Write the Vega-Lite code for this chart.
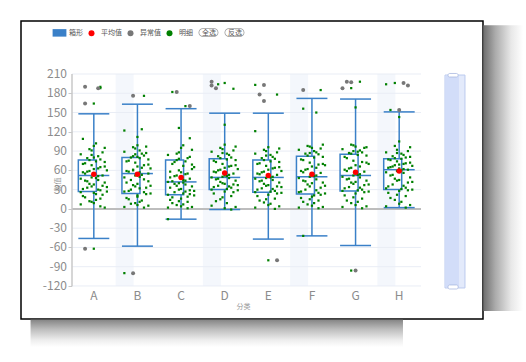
{
"$schema":"https://vega.github.io/schema/vega-lite/v6.json",
"width":462,"height":298,
"autosize":{"type":"none"},
"padding":{"left":21,"top":21,"right":43,"bottom":43},
"background":"#ffffff",
"config":{
 "view":{"stroke":"#000000","strokeWidth":1.5,"fill":"#ffffff"},
 "font":"Noto Sans CJK SC",
 "axis":{"labelOverlap":false},
 "axisY":{"labelOverlap":false},
 "legend":{"labelFont":"Noto Sans CJK SC","labelFontSize":7,"labelColor":"#555555","symbolSize":36,"columnPadding":5,"labelOffset":6,"padding":0}
},
"datasets":{
"stats":[
{"c":"A","lo":-46,"q1":27,"md":52,"q3":76,"hi":148,"mean":54},
{"c":"B","lo":-58,"q1":24,"md":55,"q3":80,"hi":163,"mean":54},
{"c":"C","lo":-16,"q1":22,"md":42,"q3":76,"hi":156,"mean":49},
{"c":"D","lo":-1,"q1":30,"md":49,"q3":78,"hi":149,"mean":56},
{"c":"E","lo":-47,"q1":26,"md":49,"q3":76,"hi":149,"mean":52},
{"c":"F","lo":-42,"q1":23,"md":50,"q3":82,"hi":172,"mean":54},
{"c":"G","lo":-57,"q1":28,"md":52,"q3":85,"hi":171,"mean":57},
{"c":"H","lo":2,"q1":30,"md":61,"q3":78,"hi":151,"mean":59}],
"grid":[{"g":-120},{"g":-90},{"g":-60},{"g":-30},{"g":0},{"g":30},{"g":60},{"g":90},{"g":120},{"g":150},{"g":180},{"g":210}],
"outliers":[
{"c":"A","v":190,"j":-4},{"c":"A","v":188,"j":2},{"c":"A","v":164,"j":-4},{"c":"A","v":-62,"j":-4},
{"c":"B","v":176,"j":-2},{"c":"B","v":-100,"j":-2},
{"c":"C","v":182,"j":-2},{"c":"C","v":160,"j":4},
{"c":"D","v":198,"j":-6},{"c":"D","v":192,"j":-6},{"c":"D","v":188,"j":-4},
{"c":"E","v":193,"j":-2},{"c":"E","v":178,"j":-4},{"c":"E","v":168,"j":-2},{"c":"E","v":-80,"j":4},
{"c":"F","v":185,"j":-4},
{"c":"G","v":198,"j":-4},{"c":"G","v":197,"j":-2},{"c":"G","v":188,"j":-6},{"c":"G","v":-96,"j":0},
{"c":"H","v":196,"j":2},{"c":"H","v":192,"j":4},{"c":"H","v":154,"j":0}],
"detail":[
{"c":"A","v":54,"j":0},{"c":"A","v":31,"j":-5},{"c":"A","v":77,"j":3},{"c":"A","v":12,"j":-2},{"c":"A","v":66,"j":5},{"c":"A","v":44,"j":-4},{"c":"A","v":23,"j":1},{"c":"A","v":91,"j":-1},{"c":"A","v":58,"j":-3},{"c":"A","v":36,"j":4},{"c":"A","v":7,"j":-6},{"c":"A","v":82,"j":2},{"c":"A","v":49,"j":-1},{"c":"A","v":27,"j":6},{"c":"A","v":71,"j":-4},{"c":"A","v":16,"j":3},{"c":"A","v":62,"j":0},{"c":"A","v":39,"j":-2},{"c":"A","v":95,"j":5},{"c":"A","v":20,"j":-5},{"c":"A","v":74,"j":1},{"c":"A","v":52,"j":4},{"c":"A","v":33,"j":-3},{"c":"A","v":85,"j":-6},{"c":"A","v":45,"j":2},{"c":"A","v":9,"j":0},{"c":"A","v":68,"j":-1},{"c":"A","v":29,"j":3},{"c":"A","v":57,"j":-5},{"c":"A","v":102,"j":1},{"c":"A","v":41,"j":5},{"c":"A","v":76,"j":-2},{"c":"A","v":18,"j":-4},{"c":"A","v":63,"j":2},{"c":"A","v":47,"j":-6},{"c":"A","v":25,"j":0},{"c":"A","v":88,"j":4},{"c":"A","v":35,"j":-1},{"c":"A","v":60,"j":6},{"c":"A","v":14,"j":1},{"c":"A","v":79,"j":-3},{"c":"A","v":51,"j":2},{"c":"A","v":4,"j":3},{"c":"A","v":70,"j":-5},{"c":"A","v":38,"j":0},{"c":"A","v":93,"j":-2},{"c":"A","v":22,"j":4},{"c":"A","v":55,"j":-4},{"c":"A","v":30,"j":2},{"c":"A","v":73,"j":5},{"c":"A","v":43,"j":-3},{"c":"A","v":98,"j":0},{"c":"A","v":11,"j":-1},{"c":"A","v":65,"j":3},{"c":"A","v":26,"j":-6},{"c":"A","v":84,"j":-1},{"c":"A","v":48,"j":1},{"c":"A","v":109,"j":-5},{"c":"A","v":2,"j":5},{"c":"A","v":59,"j":-2},{"c":"A","v":34,"j":6},{"c":"A","v":80,"j":0},{"c":"A","v":164,"j":0},{"c":"A","v":188,"j":3},{"c":"A","v":190,"j":3},{"c":"A","v":-62,"j":0},
{"c":"B","v":57,"j":1},{"c":"B","v":28,"j":-4},{"c":"B","v":83,"j":3},{"c":"B","v":8,"j":-3},{"c":"B","v":69,"j":5},{"c":"B","v":41,"j":-5},{"c":"B","v":19,"j":0},{"c":"B","v":94,"j":-1},{"c":"B","v":61,"j":-2},{"c":"B","v":33,"j":4},{"c":"B","v":3,"j":-6},{"c":"B","v":86,"j":2},{"c":"B","v":52,"j":-1},{"c":"B","v":24,"j":6},{"c":"B","v":75,"j":-4},{"c":"B","v":13,"j":2},{"c":"B","v":66,"j":0},{"c":"B","v":37,"j":-2},{"c":"B","v":97,"j":4},{"c":"B","v":17,"j":-5},{"c":"B","v":79,"j":1},{"c":"B","v":55,"j":5},{"c":"B","v":30,"j":-3},{"c":"B","v":89,"j":-6},{"c":"B","v":46,"j":3},{"c":"B","v":6,"j":0},{"c":"B","v":72,"j":-1},{"c":"B","v":26,"j":3},{"c":"B","v":59,"j":-5},{"c":"B","v":91,"j":1},{"c":"B","v":43,"j":5},{"c":"B","v":80,"j":-3},{"c":"B","v":15,"j":-4},{"c":"B","v":64,"j":2},{"c":"B","v":49,"j":-6},{"c":"B","v":21,"j":0},{"c":"B","v":87,"j":4},{"c":"B","v":35,"j":-1},{"c":"B","v":63,"j":6},{"c":"B","v":11,"j":1},{"c":"B","v":82,"j":-2},{"c":"B","v":53,"j":2},{"c":"B","v":2,"j":3},{"c":"B","v":74,"j":-5},{"c":"B","v":39,"j":0},{"c":"B","v":96,"j":-2},{"c":"B","v":23,"j":4},{"c":"B","v":58,"j":-4},{"c":"B","v":32,"j":1},{"c":"B","v":77,"j":5},{"c":"B","v":45,"j":-3},{"c":"B","v":99,"j":0},{"c":"B","v":9,"j":-1},{"c":"B","v":68,"j":3},{"c":"B","v":27,"j":-6},{"c":"B","v":85,"j":-1},{"c":"B","v":50,"j":1},{"c":"B","v":5,"j":5},{"c":"B","v":60,"j":-2},{"c":"B","v":36,"j":6},{"c":"B","v":81,"j":0},{"c":"B","v":122,"j":-6},{"c":"B","v":124,"j":2},{"c":"B","v":112,"j":0},{"c":"B","v":176,"j":3},{"c":"B","v":-100,"j":-6},
{"c":"C","v":45,"j":1},{"c":"C","v":18,"j":-4},{"c":"C","v":79,"j":3},{"c":"C","v":6,"j":-2},{"c":"C","v":62,"j":5},{"c":"C","v":33,"j":-5},{"c":"C","v":24,"j":1},{"c":"C","v":88,"j":-1},{"c":"C","v":51,"j":-3},{"c":"C","v":29,"j":4},{"c":"C","v":2,"j":-6},{"c":"C","v":74,"j":2},{"c":"C","v":40,"j":-1},{"c":"C","v":21,"j":6},{"c":"C","v":70,"j":-4},{"c":"C","v":11,"j":3},{"c":"C","v":57,"j":0},{"c":"C","v":36,"j":-2},{"c":"C","v":92,"j":5},{"c":"C","v":14,"j":-5},{"c":"C","v":67,"j":1},{"c":"C","v":47,"j":4},{"c":"C","v":26,"j":-3},{"c":"C","v":84,"j":-6},{"c":"C","v":38,"j":2},{"c":"C","v":4,"j":0},{"c":"C","v":60,"j":-1},{"c":"C","v":19,"j":3},{"c":"C","v":49,"j":-5},{"c":"C","v":99,"j":1},{"c":"C","v":35,"j":5},{"c":"C","v":76,"j":-2},{"c":"C","v":9,"j":-4},{"c":"C","v":54,"j":2},{"c":"C","v":42,"j":-6},{"c":"C","v":16,"j":0},{"c":"C","v":81,"j":4},{"c":"C","v":30,"j":-1},{"c":"C","v":65,"j":6},{"c":"C","v":7,"j":1},{"c":"C","v":73,"j":-3},{"c":"C","v":44,"j":2},{"c":"C","v":1,"j":3},{"c":"C","v":58,"j":-5},{"c":"C","v":31,"j":0},{"c":"C","v":86,"j":-2},{"c":"C","v":23,"j":4},{"c":"C","v":43,"j":-4},{"c":"C","v":27,"j":2},{"c":"C","v":69,"j":5},{"c":"C","v":39,"j":-3},{"c":"C","v":95,"j":0},{"c":"C","v":12,"j":-1},{"c":"C","v":55,"j":3},{"c":"C","v":22,"j":-6},{"c":"C","v":78,"j":-1},{"c":"C","v":41,"j":1},{"c":"C","v":3,"j":5},{"c":"C","v":52,"j":-2},{"c":"C","v":28,"j":6},{"c":"C","v":110,"j":4},{"c":"C","v":126,"j":-1},{"c":"C","v":-16,"j":-6},{"c":"C","v":160,"j":2},{"c":"C","v":182,"j":-4},
{"c":"D","v":52,"j":0},{"c":"D","v":34,"j":-5},{"c":"D","v":80,"j":3},{"c":"D","v":15,"j":-2},{"c":"D","v":68,"j":5},{"c":"D","v":46,"j":-4},{"c":"D","v":31,"j":1},{"c":"D","v":93,"j":-1},{"c":"D","v":60,"j":-3},{"c":"D","v":38,"j":4},{"c":"D","v":5,"j":-6},{"c":"D","v":84,"j":2},{"c":"D","v":50,"j":-1},{"c":"D","v":29,"j":6},{"c":"D","v":73,"j":-4},{"c":"D","v":20,"j":3},{"c":"D","v":64,"j":0},{"c":"D","v":42,"j":-2},{"c":"D","v":97,"j":5},{"c":"D","v":24,"j":-5},{"c":"D","v":77,"j":1},{"c":"D","v":55,"j":4},{"c":"D","v":36,"j":-3},{"c":"D","v":89,"j":-6},{"c":"D","v":48,"j":2},{"c":"D","v":1,"j":0},{"c":"D","v":70,"j":-1},{"c":"D","v":33,"j":3},{"c":"D","v":58,"j":-5},{"c":"D","v":86,"j":1},{"c":"D","v":44,"j":5},{"c":"D","v":79,"j":-2},{"c":"D","v":12,"j":-4},{"c":"D","v":66,"j":2},{"c":"D","v":49,"j":-6},{"c":"D","v":27,"j":0},{"c":"D","v":91,"j":4},{"c":"D","v":40,"j":-1},{"c":"D","v":62,"j":6},{"c":"D","v":9,"j":1},{"c":"D","v":82,"j":-3},{"c":"D","v":53,"j":2},{"c":"D","v":-1,"j":3},{"c":"D","v":75,"j":-5},{"c":"D","v":39,"j":0},{"c":"D","v":95,"j":-2},{"c":"D","v":26,"j":4},{"c":"D","v":57,"j":-4},{"c":"D","v":35,"j":2},{"c":"D","v":76,"j":5},{"c":"D","v":47,"j":-3},{"c":"D","v":100,"j":0},{"c":"D","v":18,"j":-1},{"c":"D","v":67,"j":3},{"c":"D","v":30,"j":-6},{"c":"D","v":87,"j":-1},{"c":"D","v":51,"j":1},{"c":"D","v":3,"j":5},{"c":"D","v":61,"j":-2},{"c":"D","v":37,"j":6},{"c":"D","v":131,"j":0},{"c":"D","v":196,"j":0},{"c":"D","v":194,"j":-3},{"c":"D","v":187,"j":4},
{"c":"E","v":51,"j":0},{"c":"E","v":30,"j":-5},{"c":"E","v":78,"j":3},{"c":"E","v":10,"j":-2},{"c":"E","v":65,"j":5},{"c":"E","v":43,"j":-4},{"c":"E","v":27,"j":1},{"c":"E","v":90,"j":-1},{"c":"E","v":57,"j":-3},{"c":"E","v":35,"j":4},{"c":"E","v":2,"j":-6},{"c":"E","v":81,"j":2},{"c":"E","v":48,"j":-1},{"c":"E","v":25,"j":6},{"c":"E","v":71,"j":-4},{"c":"E","v":16,"j":3},{"c":"E","v":61,"j":0},{"c":"E","v":39,"j":-2},{"c":"E","v":94,"j":5},{"c":"E","v":20,"j":-5},{"c":"E","v":74,"j":1},{"c":"E","v":53,"j":4},{"c":"E","v":32,"j":-3},{"c":"E","v":86,"j":-6},{"c":"E","v":45,"j":2},{"c":"E","v":6,"j":0},{"c":"E","v":67,"j":-1},{"c":"E","v":28,"j":3},{"c":"E","v":55,"j":-5},{"c":"E","v":84,"j":1},{"c":"E","v":41,"j":5},{"c":"E","v":76,"j":-2},{"c":"E","v":13,"j":-4},{"c":"E","v":63,"j":2},{"c":"E","v":47,"j":-6},{"c":"E","v":22,"j":0},{"c":"E","v":88,"j":4},{"c":"E","v":36,"j":-1},{"c":"E","v":59,"j":6},{"c":"E","v":8,"j":1},{"c":"E","v":79,"j":-3},{"c":"E","v":50,"j":2},{"c":"E","v":0,"j":3},{"c":"E","v":70,"j":-5},{"c":"E","v":37,"j":0},{"c":"E","v":92,"j":-2},{"c":"E","v":24,"j":4},{"c":"E","v":54,"j":-4},{"c":"E","v":31,"j":2},{"c":"E","v":73,"j":5},{"c":"E","v":44,"j":-3},{"c":"E","v":96,"j":0},{"c":"E","v":15,"j":-1},{"c":"E","v":64,"j":3},{"c":"E","v":26,"j":-6},{"c":"E","v":83,"j":-1},{"c":"E","v":49,"j":1},{"c":"E","v":4,"j":5},{"c":"E","v":58,"j":-2},{"c":"E","v":34,"j":6},{"c":"E","v":121,"j":-6},{"c":"E","v":193,"j":-6},{"c":"E","v":178,"j":4},{"c":"E","v":-80,"j":0},
{"c":"F","v":53,"j":0},{"c":"F","v":27,"j":-5},{"c":"F","v":85,"j":3},{"c":"F","v":7,"j":-2},{"c":"F","v":70,"j":5},{"c":"F","v":44,"j":-4},{"c":"F","v":21,"j":1},{"c":"F","v":97,"j":-1},{"c":"F","v":61,"j":-3},{"c":"F","v":33,"j":4},{"c":"F","v":2,"j":-6},{"c":"F","v":88,"j":2},{"c":"F","v":50,"j":-1},{"c":"F","v":24,"j":6},{"c":"F","v":76,"j":-4},{"c":"F","v":13,"j":3},{"c":"F","v":66,"j":0},{"c":"F","v":38,"j":-2},{"c":"F","v":100,"j":5},{"c":"F","v":17,"j":-5},{"c":"F","v":80,"j":1},{"c":"F","v":56,"j":4},{"c":"F","v":30,"j":-3},{"c":"F","v":92,"j":-6},{"c":"F","v":46,"j":2},{"c":"F","v":5,"j":0},{"c":"F","v":72,"j":-1},{"c":"F","v":25,"j":3},{"c":"F","v":59,"j":-5},{"c":"F","v":90,"j":1},{"c":"F","v":41,"j":5},{"c":"F","v":83,"j":-2},{"c":"F","v":11,"j":-4},{"c":"F","v":64,"j":2},{"c":"F","v":48,"j":-6},{"c":"F","v":19,"j":0},{"c":"F","v":94,"j":4},{"c":"F","v":35,"j":-1},{"c":"F","v":68,"j":6},{"c":"F","v":9,"j":1},{"c":"F","v":86,"j":-3},{"c":"F","v":52,"j":2},{"c":"F","v":1,"j":3},{"c":"F","v":77,"j":-5},{"c":"F","v":40,"j":0},{"c":"F","v":98,"j":-2},{"c":"F","v":22,"j":4},{"c":"F","v":57,"j":-4},{"c":"F","v":29,"j":2},{"c":"F","v":81,"j":5},{"c":"F","v":43,"j":-3},{"c":"F","v":95,"j":0},{"c":"F","v":15,"j":-1},{"c":"F","v":69,"j":3},{"c":"F","v":26,"j":-6},{"c":"F","v":87,"j":-1},{"c":"F","v":51,"j":1},{"c":"F","v":3,"j":5},{"c":"F","v":62,"j":-2},{"c":"F","v":36,"j":6},{"c":"F","v":-42,"j":-4},{"c":"F","v":156,"j":-4},{"c":"F","v":150,"j":2},{"c":"F","v":185,"j":4},
{"c":"G","v":55,"j":0},{"c":"G","v":32,"j":-5},{"c":"G","v":88,"j":3},{"c":"G","v":9,"j":-2},{"c":"G","v":72,"j":5},{"c":"G","v":46,"j":-4},{"c":"G","v":29,"j":1},{"c":"G","v":99,"j":-1},{"c":"G","v":63,"j":-3},{"c":"G","v":37,"j":4},{"c":"G","v":3,"j":-6},{"c":"G","v":91,"j":2},{"c":"G","v":52,"j":-1},{"c":"G","v":27,"j":6},{"c":"G","v":79,"j":-4},{"c":"G","v":16,"j":3},{"c":"G","v":68,"j":0},{"c":"G","v":41,"j":-2},{"c":"G","v":96,"j":5},{"c":"G","v":21,"j":-5},{"c":"G","v":84,"j":1},{"c":"G","v":58,"j":4},{"c":"G","v":34,"j":-3},{"c":"G","v":93,"j":-6},{"c":"G","v":49,"j":2},{"c":"G","v":6,"j":0},{"c":"G","v":75,"j":-1},{"c":"G","v":30,"j":3},{"c":"G","v":61,"j":-5},{"c":"G","v":89,"j":1},{"c":"G","v":44,"j":5},{"c":"G","v":86,"j":-2},{"c":"G","v":13,"j":-4},{"c":"G","v":66,"j":2},{"c":"G","v":50,"j":-6},{"c":"G","v":24,"j":0},{"c":"G","v":95,"j":4},{"c":"G","v":39,"j":-1},{"c":"G","v":70,"j":6},{"c":"G","v":11,"j":1},{"c":"G","v":87,"j":-3},{"c":"G","v":54,"j":2},{"c":"G","v":1,"j":3},{"c":"G","v":81,"j":-5},{"c":"G","v":42,"j":0},{"c":"G","v":100,"j":-2},{"c":"G","v":26,"j":4},{"c":"G","v":59,"j":-4},{"c":"G","v":33,"j":2},{"c":"G","v":83,"j":5},{"c":"G","v":47,"j":-3},{"c":"G","v":97,"j":0},{"c":"G","v":18,"j":-1},{"c":"G","v":73,"j":3},{"c":"G","v":28,"j":-6},{"c":"G","v":90,"j":-1},{"c":"G","v":53,"j":1},{"c":"G","v":4,"j":5},{"c":"G","v":64,"j":-2},{"c":"G","v":38,"j":6},{"c":"G","v":158,"j":0},{"c":"G","v":198,"j":2},{"c":"G","v":188,"j":-2},{"c":"G","v":-96,"j":-2},
{"c":"H","v":63,"j":0},{"c":"H","v":35,"j":-5},{"c":"H","v":80,"j":3},{"c":"H","v":14,"j":-2},{"c":"H","v":72,"j":5},{"c":"H","v":52,"j":-4},{"c":"H","v":31,"j":1},{"c":"H","v":92,"j":-1},{"c":"H","v":66,"j":-3},{"c":"H","v":41,"j":4},{"c":"H","v":4,"j":-6},{"c":"H","v":84,"j":2},{"c":"H","v":59,"j":-1},{"c":"H","v":30,"j":6},{"c":"H","v":76,"j":-4},{"c":"H","v":20,"j":3},{"c":"H","v":69,"j":0},{"c":"H","v":47,"j":-2},{"c":"H","v":96,"j":5},{"c":"H","v":25,"j":-5},{"c":"H","v":78,"j":1},{"c":"H","v":61,"j":4},{"c":"H","v":38,"j":-3},{"c":"H","v":88,"j":-6},{"c":"H","v":56,"j":2},{"c":"H","v":8,"j":0},{"c":"H","v":74,"j":-1},{"c":"H","v":33,"j":3},{"c":"H","v":64,"j":-5},{"c":"H","v":86,"j":1},{"c":"H","v":49,"j":5},{"c":"H","v":79,"j":-2},{"c":"H","v":17,"j":-4},{"c":"H","v":70,"j":2},{"c":"H","v":57,"j":-6},{"c":"H","v":28,"j":0},{"c":"H","v":90,"j":4},{"c":"H","v":44,"j":-1},{"c":"H","v":67,"j":6},{"c":"H","v":11,"j":1},{"c":"H","v":82,"j":-3},{"c":"H","v":62,"j":2},{"c":"H","v":2,"j":3},{"c":"H","v":77,"j":-5},{"c":"H","v":45,"j":0},{"c":"H","v":98,"j":-2},{"c":"H","v":29,"j":4},{"c":"H","v":65,"j":-4},{"c":"H","v":36,"j":2},{"c":"H","v":81,"j":5},{"c":"H","v":53,"j":-3},{"c":"H","v":105,"j":0},{"c":"H","v":22,"j":-1},{"c":"H","v":71,"j":3},{"c":"H","v":32,"j":-6},{"c":"H","v":87,"j":-1},{"c":"H","v":60,"j":1},{"c":"H","v":6,"j":5},{"c":"H","v":68,"j":-2},{"c":"H","v":42,"j":6},{"c":"H","v":143,"j":0},{"c":"H","v":196,"j":-2},{"c":"H","v":194,"j":-6},{"c":"H","v":154,"j":-4}]
},
"layer":[
{"data":{"values":[{}]},
 "mark":{"type":"rect","fill":{"gradient":"linear","x1":0,"y1":0,"x2":1,"y2":0,"stops":[{"offset":0,"color":"#6e6e6e"},{"offset":0.3,"color":"#ababab"},{"offset":0.7,"color":"#e8e8e8"},{"offset":1,"color":"#ffffff"}]}},
 "encoding":{
  "x":{"datum":"H","bandPosition":2.43,"scale":{"domain":["A","B","C","D","E","F","G","H"],"paddingInner":0,"paddingOuter":0,"range":[51,400]},
   "axis":{"orient":"bottom","offset":-33,"domain":false,"ticks":false,"grid":false,"labelAngle":0,"labelColor":"#8c8c8c","labelFontSize":12,"labelFont":"Noto Sans CJK SC","labelPadding":4,"title":"分类","titleFont":"Noto Sans CJK SC","titleFontSize":7,"titleFontWeight":"normal","titleColor":"#999999","titleX":222,"titleY":16}},
  "x2":{"datum":"H","bandPosition":3.34},
  "y":{"datum":286,"scale":{"domain":[-171.4,292.5],"nice":false,"zero":false}},
  "y2":{"datum":-159}}},
{"data":{"values":[{}]},
 "mark":{"type":"rect","fill":{"gradient":"linear","x1":0,"y1":0,"x2":0,"y2":1,"stops":[{"offset":0,"color":"#858585"},{"offset":0.35,"color":"#bdbdbd"},{"offset":0.75,"color":"#eeeeee"},{"offset":1,"color":"#ffffff"}]}},
 "encoding":{
  "x":{"datum":"A","bandPosition":-0.95},
  "x2":{"datum":"H","bandPosition":0.587},
  "y":{"datum":-172.5},
  "y2":{"datum":-215}}},
{"data":{"name":"stats"},
 "transform":[{"filter":{"field":"c","oneOf":["B","D","F","H"]}}],
 "mark":{"type":"rect","fill":"#f4f7fc"},
 "encoding":{
  "x":{"field":"c","type":"nominal"},
  "y":{"datum":210},
  "y2":{"datum":-120}}},
{"data":{"name":"grid"},
 "transform":[{"filter":"datum.g !== 0"}],
 "mark":{"type":"rule","color":"#e9edf5","strokeWidth":1},
 "encoding":{
  "x":{"datum":"A","bandPosition":0},
  "x2":{"datum":"H","bandPosition":1},
  "y":{"field":"g","type":"quantitative",
   "axis":{"values":[-120,-90,-60,-30,0,30,60,90,120,150,180,210],"labels":false,"offset":-51,"domain":false,"grid":false,"ticks":true,"tickSize":4,"tickColor":"#c8c8c8","title":"数值","titleFont":"Noto Sans CJK SC","titleFontSize":7,"titleFontWeight":"normal","titleColor":"#999999","titleX":-12,"titleY":163,"titleAngle":-90}}}},
{"data":{"name":"grid"},
 "mark":{"type":"text","align":"right","baseline":"middle","dx":-5,"fontSize":12,"font":"Noto Sans CJK SC","color":"#8c8c8c"},
 "encoding":{
  "x":{"datum":"A","bandPosition":0},
  "y":{"field":"g","type":"quantitative"},
  "text":{"field":"g","type":"nominal"}}},
{"data":{"values":[{}]},
 "mark":{"type":"rule","color":"#bdbdbd","strokeWidth":2},
 "encoding":{
  "x":{"datum":"A","bandPosition":0},
  "x2":{"datum":"H","bandPosition":1},
  "y":{"datum":0}}},
{"data":{"values":[{}]},
 "mark":{"type":"rule","color":"#c8c8c8","strokeWidth":1.5},
 "encoding":{
  "x":{"datum":"A","bandPosition":0},
  "y":{"datum":-120},
  "y2":{"datum":210}}},
{"data":{"name":"stats"},
 "mark":{"type":"rule","strokeWidth":1.5},
 "encoding":{
  "x":{"field":"c","type":"nominal"},
  "y":{"field":"lo","type":"quantitative"},
  "y2":{"field":"hi"},
  "color":{"datum":"箱形","scale":{"domain":["箱形","平均值","异常值","明细","全选","反选"],"range":["#3a80c8","#ff0000","#777777","#008000","#9a9a9a","#9a9a9a"]},
   "legend":{"title":null,"orient":"none","legendX":35,"legendY":8,"direction":"horizontal",
    "encode":{
     "symbols":{"update":{
      "shape":{"signal":"datum.value==='箱形' ? 'M-2.3,-1.25H2.3V1.25H-2.3Z' : (datum.value==='全选'||datum.value==='反选') ? 'M-2.55,-1.45H1.2A1.45,1.45,0,0,1,1.2,1.45H-2.55A1.45,1.45,0,0,1,-2.55,-1.45ZM-2.55,-1.2A1.2,1.2,0,0,0,-2.55,1.2H1.2A1.2,1.2,0,0,0,1.2,-1.2Z' : 'circle'"},
      "strokeWidth":{"value":0},
      "opacity":{"value":1}}},
     "labels":{"update":{
      "dx":{"signal":"(datum.value==='全选'||datum.value==='反选') ? -18 : 0"}}}}}}}},
{"data":{"name":"stats"},
 "mark":{"type":"bar","width":{"band":0.71},"fill":"#ffffff","stroke":"#3a80c8","strokeWidth":1.5},
 "encoding":{
  "x":{"field":"c","type":"nominal"},
  "y":{"field":"q1","type":"quantitative"},
  "y2":{"field":"q3"}}},
{"data":{"name":"stats"},
 "transform":[{"fold":["lo","md","hi"],"as":["k","val"]}],
 "mark":{"type":"rule","color":"#3a80c8","strokeWidth":1.5},
 "encoding":{
  "x":{"field":"c","type":"nominal","bandPosition":0.145},
  "x2":{"field":"c","bandPosition":0.855},
  "y":{"field":"val","type":"quantitative"}}},
{"data":{"name":"detail"},
 "mark":{"type":"point","shape":"square","filled":true,"size":5,"opacity":1},
 "encoding":{
  "x":{"field":"c","type":"nominal"},
  "xOffset":{"field":"j","type":"quantitative","scale":{"domain":[-10,10]}},
  "y":{"field":"v","type":"quantitative"},
  "color":{"datum":"明细"}}},
{"data":{"name":"outliers"},
 "mark":{"type":"circle","size":16,"opacity":1},
 "encoding":{
  "x":{"field":"c","type":"nominal"},
  "xOffset":{"field":"j","type":"quantitative"},
  "y":{"field":"v","type":"quantitative"},
  "color":{"datum":"异常值"}}},
{"data":{"name":"stats"},
 "mark":{"type":"circle","size":30,"opacity":1},
 "encoding":{
  "x":{"field":"c","type":"nominal"},
  "y":{"field":"mean","type":"quantitative"},
  "color":{"datum":"平均值"}}},
{"data":{"values":[{}]},
 "mark":{"type":"rect","fill":"#e3eafb","stroke":"#bccbef","strokeWidth":1},
 "encoding":{
  "x":{"datum":"H","bandPosition":1.55},
  "x2":{"datum":"H","bandPosition":2.008},
  "y":{"datum":208.4},
  "y2":{"datum":-123.1}}},
{"data":{"values":[{}]},
 "mark":{"type":"rect","fill":"#d2ddf9"},
 "encoding":{
  "x":{"datum":"H","bandPosition":1.56},
  "x2":{"datum":"H","bandPosition":1.87},
  "y":{"datum":207.5},
  "y2":{"datum":-122}}},
{"data":{"values":[{"p":"t","a":210.8,"b":205.3},{"p":"b","a":-118.4,"b":-124.7}]},
 "mark":{"type":"rect","fill":"#ffffff","stroke":"#a9b9df","strokeWidth":0.8,"cornerRadius":1.5},
 "encoding":{
  "x":{"datum":"H","bandPosition":1.62},
  "x2":{"datum":"H","bandPosition":1.85},
  "y":{"field":"a","type":"quantitative"},
  "y2":{"field":"b"}}}
]
}
